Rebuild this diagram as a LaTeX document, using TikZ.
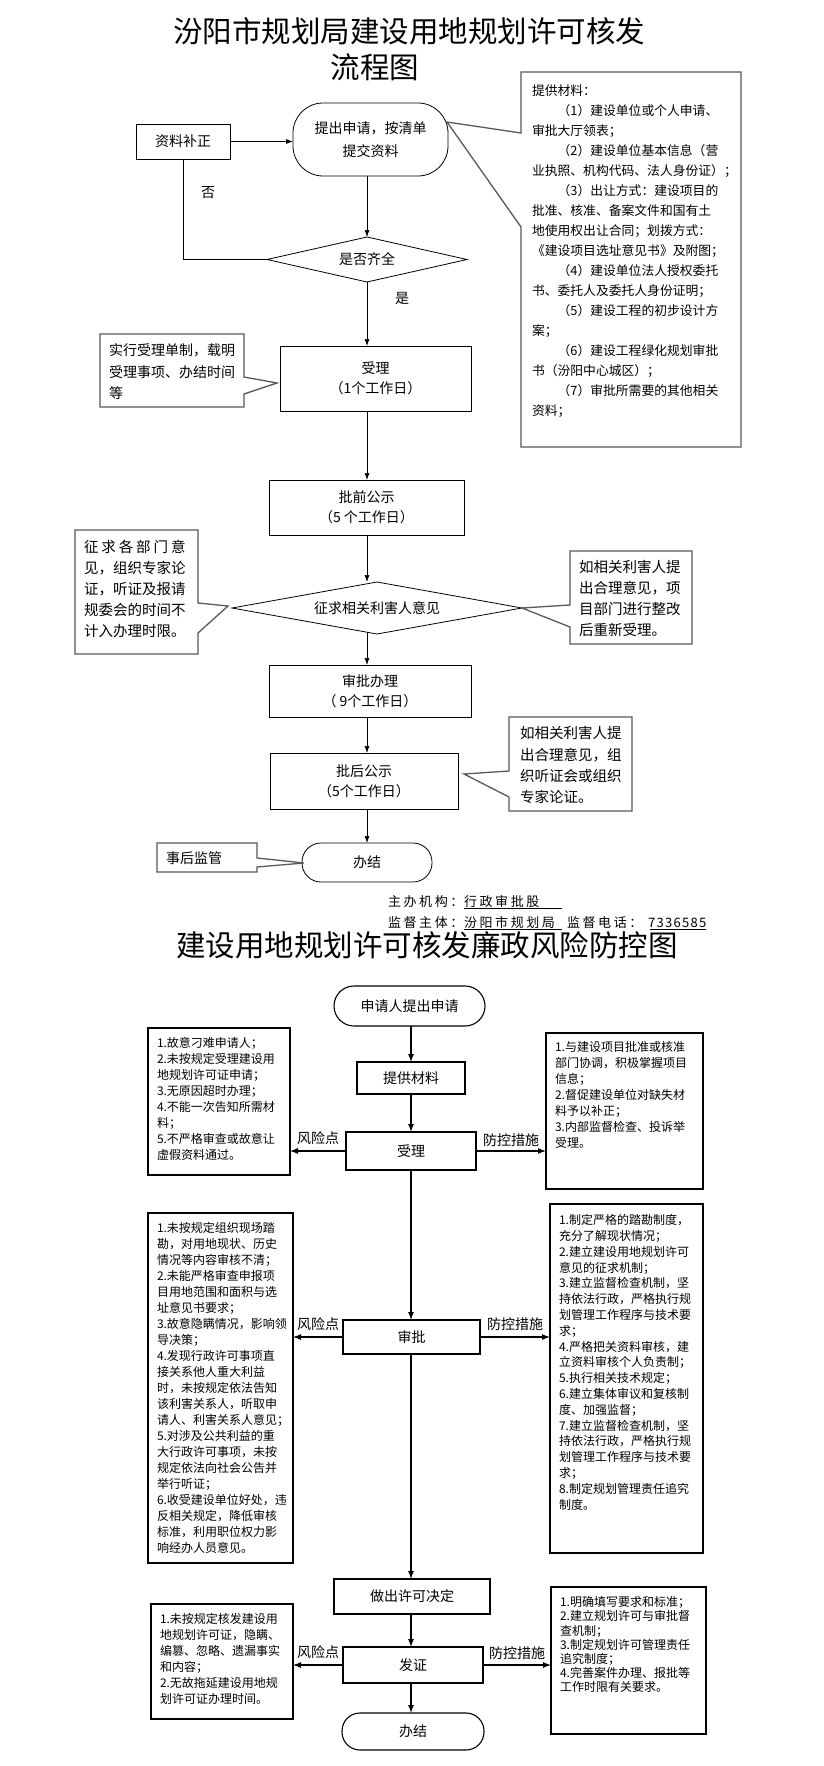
\documentclass[tikz,border=0pt]{standalone}
\usepackage{fontspec}
\setmainfont{Noto Sans CJK SC}
\newfontfamily\spacedcjk[LetterSpace=20]{Noto Sans CJK SC}
\newfontfamily\spaceddig[LetterSpace=10]{Noto Sans CJK SC}
\usetikzlibrary{shapes.geometric,arrows.meta,calc}
\begin{document}
\begin{tikzpicture}[x=1pt,y=-1pt,
  every node/.style={inner sep=0pt,outer sep=0pt},
  fbox/.style={draw,line width=0.8pt,align=center,font=\fontsize{14}{20}\selectfont},
  fdia/.style={draw,line width=0.8pt,diamond,font=\fontsize{14}{20}\selectfont},
  callout/.style={draw=black!65,line width=1.3pt},
  ctext/.style={anchor=north west,align=left},
  farrow/.style={line width=0.7pt,-{Latex[length=7pt,width=5pt]}},
  fline/.style={line width=0.7pt},
  lbox/.style={draw,line width=1.1pt,align=center,font=\fontsize{14}{20}\selectfont},
  lrisk/.style={draw,line width=1.1pt,anchor=north west},
  ltext/.style={anchor=north west,align=left,font=\fontsize{12}{16}\selectfont},
  larrow/.style={line width=1.1pt,-{Latex[length=8pt,width=6pt]}},
  lab/.style={font=\fontsize{14}{16}\selectfont},
  ttl/.style={font=\fontsize{29.5}{34}\selectfont},
  foot/.style={anchor=base west,font=\fontsize{13}{16}\spacedcjk},
]
\fill[white] (0,0) rectangle (823,1766);
\useasboundingbox (0,0) rectangle (823,1766);

% ---------------- titles ----------------
\node[ttl] (t1) at (409,31) {汾阳市规划局建设用地规划许可核发};
\node[ttl] (t2) at (375,67) {流程图};

% ---------------- top flow ----------------
\node[fbox,rounded corners=30pt,minimum width=155pt,minimum height=73pt,font=\fontsize{14}{23}\selectfont] (ap) at (370.5,139.5) {提出申请，按清单\\提交资料};
\node[fbox,minimum width=94pt,minimum height=35pt] (zl) at (183,141.5) {资料补正};
\node[fdia,minimum width=200pt,minimum height=45pt,aspect=4.44] (d1) at (367,259.5) {是否齐全};
\node[fbox,minimum width=191pt,minimum height=65pt] (sl) at (375.5,378.5) {受理\\（1个工作日）};
\node[fbox,minimum width=195pt,minimum height=55pt] (pq) at (366.5,507.5) {批前公示\\（5 个工作日）};
\node[fdia,minimum width=290pt,minimum height=52pt,aspect=5.6] (d2) at (377,608) {征求相关利害人意见};
\node[fbox,minimum width=202pt,minimum height=52pt] (sp) at (370,691) {审批办理\\（ 9个工作日）};
\node[fbox,minimum width=188pt,minimum height=56pt] (ph) at (364,781) {批后公示\\（5个工作日）};
\node[fbox,rounded corners=19pt,minimum width=130pt,minimum height=39pt] (bj) at (367,862.5) {办结};

\coordinate (cx) at (367,0);
\draw[farrow] (zl.east) -- (zl.east -| ap.west);
\draw[fline] (d1.west) -| (zl.south);
\draw[farrow] (ap.south -| cx) -- (d1.north -| cx);
\draw[farrow] (d1.south -| cx) -- (sl.north -| cx);
\draw[farrow] (sl.south -| cx) -- (pq.north -| cx);
\draw[farrow] (pq.south -| cx) -- (d2.north -| cx);
\draw[farrow] ($(d2.south -| cx)+(0,-2)$) -- (sp.north -| cx);
\draw[farrow] (sp.south -| cx) -- (ph.north -| cx);
\draw[farrow] (ph.south -| cx) -- (bj.north -| cx);

\node[lab] (no) at (208,193) {否};
\node[lab] (yes) at (402,298) {是};

% callouts
\draw[callout] (521,72) -- (741,72) -- (741,447) -- (521,447) -- (521,227) -- (447,122) -- (521,133) -- cycle;
\node[ctext,font=\fontsize{12.8}{20}\selectfont] (mt) at (532,84.5) {提供材料：\\
\hspace*{2em}（1）建设单位或个人申请、\\
审批大厅领表；\\
\hspace*{2em}（2）建设单位基本信息（营\\
业执照、机构代码、法人身份证）；\\
\hspace*{2em}（3）出让方式：建设项目的\\
批准、核准、备案文件和国有土\\
地使用权出让合同；划拨方式：\\
《建设项目选址意见书》及附图；\\
\hspace*{2em}（4）建设单位法人授权委托\\
书、委托人及委托人身份证明；\\
\hspace*{2em}（5）建设工程的初步设计方\\
案；\\
\hspace*{2em}（6）建设工程绿化规划审批\\
书（汾阳中心城区）；\\
\hspace*{2em}（7）审批所需要的其他相关\\
资料；};

\draw[callout] (100,334) -- (244,334) -- (244,377) -- (277,383) -- (244,394) -- (244,407) -- (100,407) -- cycle;
\node[ctext,font=\fontsize{14}{21.5}\selectfont] (c1t) at (109,343.7) {实行受理单制，载明\\受理事项、办结时间\\等};

\draw[callout] (75,530) -- (198,530) -- (198,603) -- (228,606) -- (198,633) -- (198,654) -- (75,654) -- cycle;
\node[ctext,font=\fontsize{14.5}{21}\selectfont] (c2t) at (84,540.5) {\makebox[101.5pt][s]{征\hfill 求\hfill 各\hfill 部\hfill 门\hfill 意}\\见，组织专家论\\证，听证及报请\\规委会的时间不\\计入办理时限。};

\draw[callout] (570,551) -- (692,551) -- (692,644) -- (570,644) -- (570,627) -- (522,608) -- (570,605) -- cycle;
\node[ctext,font=\fontsize{14.5}{21}\selectfont] (c3t) at (579,560.5) {如相关利害人提\\出合理意见，项\\目部门进行整改\\后重新受理。};

\draw[callout] (509,717) -- (632,717) -- (632,811) -- (509,811) -- (509,797) -- (464,774) -- (509,771) -- cycle;
\node[ctext,font=\fontsize{14.5}{21.3}\selectfont] (c4t) at (520,726.5) {如相关利害人提\\出合理意见，组\\织听证会或组织\\专家论证。};

\draw[callout] (157,843) -- (257,843) -- (257,858) -- (304,863) -- (257,867) -- (257,872) -- (157,872) -- cycle;
\node[anchor=west,font=\fontsize{14}{16}\selectfont] (c5t) at (166,858) {事后监管};

% footer
\node[foot] (f1a) at (388,906) {主办机构：};
\node[foot] (f1b) at (464,906) {行政审批股};
\node[foot] (f2a) at (388,927) {监督主体：};
\node[foot] (f2b) at (464,927) {汾阳市规划局};
\node[foot] (f2c) at (567,927) {监督电话：};
\node[anchor=base west,font=\fontsize{13}{16}\spaceddig] (f2d) at (648,927) {7336585};
\draw[line width=0.7pt] ($(f1b.base west)+(0,2.5)$) -- ++(98,0);
\draw[line width=0.7pt] ($(f2b.base west)+(0,2.5)$) -- ++(98,0);
\draw[line width=0.7pt] ($(f2d.base west)+(2,2.5)$) -- ++(56,0);

% ---------------- lower chart ----------------
\node[ttl] (t3) at (427,945) {建设用地规划许可核发廉政风险防控图};

\node[lbox,rounded corners=20pt,minimum width=151pt,minimum height=40pt] (o2) at (409.5,1006) {申请人提出申请};
\node[lbox,minimum width=108pt,minimum height=32pt] (p2) at (411,1078) {提供材料};
\node[lbox,minimum width=130pt,minimum height=38pt] (s2) at (411,1151) {受理};
\node[lbox,minimum width=137pt,minimum height=34pt] (a2) at (411.5,1337) {审批};
\node[lbox,minimum width=156pt,minimum height=35pt] (z2) at (412,1596.5) {做出许可决定};
\node[lbox,minimum width=140pt,minimum height=36pt] (f2) at (413,1665) {发证};
\node[lbox,rounded corners=18pt,minimum width=142pt,minimum height=37pt] (e2) at (413,1731.5) {办结};

\node[lrisk,minimum width=142pt,minimum height=147pt] (L1) at (148,1028) {};
\node[lrisk,minimum width=145pt,minimum height=350pt] (L2) at (148,1213) {};
\node[lrisk,minimum width=142pt,minimum height=115pt] (L3) at (151,1604) {};
\node[lrisk,minimum width=157pt,minimum height=156pt] (R1) at (546,1033) {};
\node[lrisk,minimum width=153pt,minimum height=349pt] (R2) at (550,1204) {};
\node[lrisk,minimum width=155pt,minimum height=147pt] (R3) at (551,1587) {};

\node[ltext] (L1t) at (157,1037.6) {1.故意刁难申请人；\\2.未按规定受理建设用\\地规划许可证申请；\\3.无原因超时办理；\\4.不能一次告知所需材\\料；\\5.不严格审查或故意让\\虚假资料通过。};
\node[ltext] (L2t) at (157,1222.6) {1.未按规定组织现场踏\\勘，对用地现状、历史\\情况等内容审核不清；\\2.未能严格审查申报项\\目用地范围和面积与选\\址意见书要求；\\3.故意隐瞒情况，影响领\\导决策；\\4.发现行政许可事项直\\接关系他人重大利益\\时，未按规定依法告知\\该利害关系人，听取申\\请人、利害关系人意见；\\5.对涉及公共利益的重\\大行政许可事项，未按\\规定依法向社会公告并\\举行听证；\\6.收受建设单位好处，违\\反相关规定，降低审核\\标准，利用职位权力影\\响经办人员意见。};
\node[ltext] (L3t) at (160,1613.6) {1.未按规定核发建设用\\地规划许可证，隐瞒、\\编篡、忽略、遗漏事实\\和内容；\\2.无故拖延建设用地规\\划许可证办理时间。};
\node[ltext] (R1t) at (555,1041.6) {1.与建设项目批准或核准\\部门协调，积极掌握项目\\信息；\\2.督促建设单位对缺失材\\料予以补正；\\3.内部监督检查、投诉举\\受理。};
\node[ltext,font=\fontsize{12}{15.8}\selectfont] (R2t) at (559,1214.6) {1.制定严格的踏勘制度，\\充分了解现状情况；\\2.建立建设用地规划许可\\意见的征求机制；\\3.建立监督检查机制，坚\\持依法行政，严格执行规\\划管理工作程序与技术要\\求；\\4.严格把关资料审核，建\\立资料审核个人负责制；\\5.执行相关技术规定；\\6.建立集体审议和复核制\\度、加强监督；\\7.建立监督检查机制，坚\\持依法行政，严格执行规\\划管理工作程序与技术要\\求；\\8.制定规划管理责任追究\\制度。};
\node[ltext,font=\fontsize{12}{14.2}\selectfont] (R3t) at (560,1596.6) {1.明确填写要求和标准；\\2.建立规划许可与审批督\\查机制；\\3.制定规划许可管理责任\\追究制度；\\4.完善案件办理、报批等\\工作时限有关要求。};

\coordinate (c2) at (411,0);
\draw[larrow] (o2.south -| c2) -- (p2.north -| c2);
\draw[larrow] (p2.south -| c2) -- (s2.north -| c2);
\draw[larrow] (s2.south -| c2) -- (a2.north -| c2);
\draw[larrow] (a2.south -| c2) -- (z2.north -| c2);
\draw[larrow] (z2.south -| c2) -- (f2.north -| c2);
\draw[larrow] (f2.south -| c2) -- (e2.north -| c2);

\draw[larrow] (s2.west) -- (s2.west -| L1.east) node[lab,midway,above=6pt] (r1) {风险点};
\draw[larrow] (s2.east) -- (s2.east -| R1.west) node[lab,midway,above=4pt] (m1) {防控措施};
\draw[larrow] (a2.west) -- (a2.west -| L2.east) node[lab,midway,above=6pt] (r2) {风险点};
\draw[larrow] (a2.east) -- (a2.east -| R2.west) node[lab,midway,above=6pt] (m2) {防控措施};
\draw[larrow] (f2.west) -- (f2.west -| L3.east) node[lab,midway,above=6pt] (r3) {风险点};
\draw[larrow] (f2.east) -- (f2.east -| R3.west) node[lab,midway,above=5pt] (m3) {防控措施};
\end{tikzpicture}
\end{document}
